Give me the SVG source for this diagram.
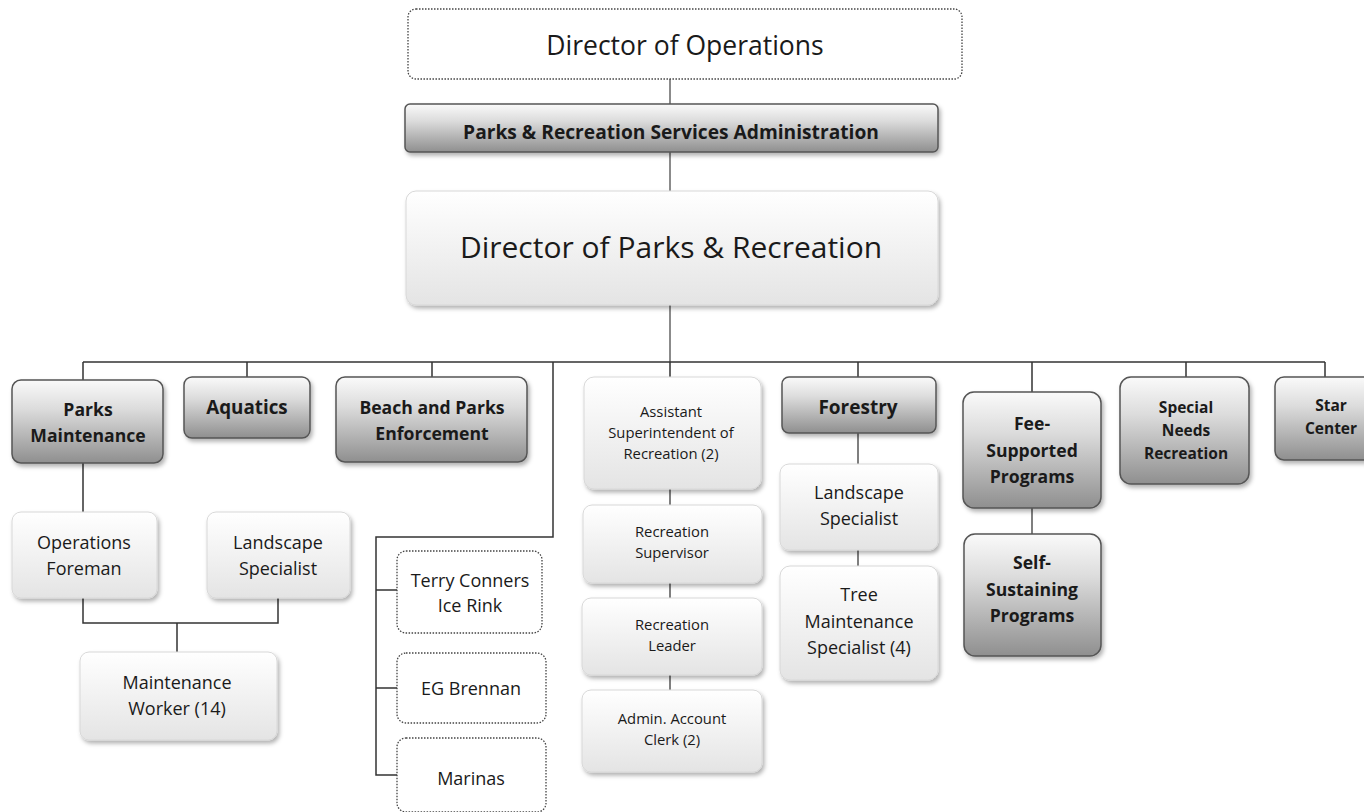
<svg xmlns="http://www.w3.org/2000/svg" width="1364" height="812" viewBox="0 0 1364 812">
<style>
text{font-family:"Open Sans",Lato,"Liberation Sans",sans-serif;fill:#1a1a1a;text-anchor:middle}
.b{font-weight:bold}
.dark{fill:url(#gd);stroke:#555;stroke-width:1.5;filter:url(#sh)}
.light{fill:url(#gl);stroke:#d8d8d8;stroke-width:1;filter:url(#sh)}
.dot{fill:#fff;stroke:#444;stroke-width:1.3;stroke-dasharray:1.5 1.5}
.c{fill:none;stroke:#333;stroke-width:1.5}
.r{font-size:18px}
.s{font-size:14.8px}
.m{font-size:17.6px}
</style>
<defs>
<linearGradient id="gd" x1="0" y1="0" x2="0" y2="1"><stop offset="0" stop-color="#fafafa"/><stop offset="0.35" stop-color="#dcdcdc"/><stop offset="1" stop-color="#8f8f8f"/></linearGradient>
<linearGradient id="gl" x1="0" y1="0" x2="0" y2="1"><stop offset="0" stop-color="#ffffff"/><stop offset="1" stop-color="#e4e4e4"/></linearGradient>
<filter id="sh" x="-10%" y="-10%" width="125%" height="130%"><feDropShadow dx="2" dy="3" stdDeviation="2" flood-color="#000" flood-opacity="0.3"/></filter>
</defs>
<rect width="1364" height="812" fill="#fff"/>
<g id="connectors">
<path class="c" style="stroke:#666" d="M670 79V104M670 152V191M670 305V362"/>
<path class="c" d="M83 362H1325M83 362V380M247 362V377M432 362V377M670 362V377M858 362V377M1032 362V392M1186 362V377M1325 362V377"/>
<path class="c" d="M553 362V537H376V775H397M376 590H397M376 688H397"/>
<path class="c" d="M83 463V512M83 598V623H278V598M177 623V652"/>
<path class="c" style="stroke:#555" d="M670 489V505M670 583V598M670 675V690M858 433V464M858 550V566M1032 508V534"/>
</g>
<g id="director-operations"><rect class="dot" x="408" y="9" width="554" height="70" rx="8"/><text x="685" y="55" font-size="26.5">Director of Operations</text></g>
<g id="prsa"><rect class="dark" x="405" y="104" width="533" height="48" rx="5"/><text class="b" x="671" y="139" font-size="19.2">Parks &amp; Recreation Services Administration</text></g>
<g id="director-parks"><rect class="light" x="406" y="191" width="532" height="114" rx="10"/><text x="671" y="258" font-size="30">Director of Parks &amp; Recreation</text></g>
<g id="parks-maintenance"><rect class="dark" x="12" y="380" width="151" height="83" rx="9"/><text class="b m"><tspan x="88" y="416">Parks</tspan><tspan x="88" y="442">Maintenance</tspan></text></g>
<g id="aquatics"><rect class="dark" x="184" y="377" width="126" height="61" rx="8"/><text class="b" x="247" y="414" font-size="18.8">Aquatics</text></g>
<g id="beach"><rect class="dark" x="336" y="377" width="191" height="85" rx="9"/><text class="b m"><tspan x="432" y="414">Beach and Parks</tspan><tspan x="432" y="440">Enforcement</tspan></text></g>
<g id="asst-super"><rect class="light" x="584" y="377" width="177" height="112" rx="10"/><text class="s"><tspan x="671" y="417">Assistant</tspan><tspan x="671" y="438">Superintendent of</tspan><tspan x="671" y="459">Recreation (2)</tspan></text></g>
<g id="forestry"><rect class="dark" x="782" y="377" width="154" height="56" rx="7"/><text class="b" x="858" y="414" font-size="19">Forestry</text></g>
<g id="fee-supported"><rect class="dark" x="963" y="392" width="138" height="116" rx="11"/><text class="b m"><tspan x="1032" y="430">Fee-</tspan><tspan x="1032" y="457">Supported</tspan><tspan x="1032" y="483">Programs</tspan></text></g>
<g id="special-needs"><rect class="dark" x="1120" y="377" width="129" height="107" rx="11"/><text class="b" font-size="15.5"><tspan x="1186" y="413">Special</tspan><tspan x="1186" y="436">Needs</tspan><tspan x="1186" y="459">Recreation</tspan></text></g>
<g id="star-center"><rect class="dark" x="1275" y="377" width="100" height="83" rx="9"/><text class="b" font-size="15.5"><tspan x="1331" y="411">Star</tspan><tspan x="1331" y="434">Center</tspan></text></g>
<g id="operations-foreman"><rect class="light" x="12" y="512" width="145" height="86" rx="9"/><text class="r"><tspan x="84" y="549">Operations</tspan><tspan x="84" y="575">Foreman</tspan></text></g>
<g id="landscape-pm"><rect class="light" x="207" y="512" width="143" height="86" rx="9"/><text class="r"><tspan x="278" y="549">Landscape</tspan><tspan x="278" y="575">Specialist</tspan></text></g>
<g id="maintenance-worker"><rect class="light" x="80" y="652" width="197" height="88" rx="9"/><text class="r"><tspan x="177" y="689">Maintenance</tspan><tspan x="177" y="715">Worker (14)</tspan></text></g>
<g id="terry"><rect class="dot" x="397" y="551" width="145" height="82" rx="9"/><text class="r"><tspan x="470" y="587">Terry Conners</tspan><tspan x="470" y="612">Ice Rink</tspan></text></g>
<g id="eg-brennan"><rect class="dot" x="397" y="653" width="149" height="70" rx="9"/><text class="r" x="471" y="695">EG Brennan</text></g>
<g id="marinas"><rect class="dot" x="397" y="738" width="149" height="74" rx="9"/><text class="r" x="471" y="785">Marinas</text></g>
<g id="rec-supervisor"><rect class="light" x="583" y="505" width="179" height="78" rx="9"/><text class="s"><tspan x="672" y="537">Recreation</tspan><tspan x="672" y="558">Supervisor</tspan></text></g>
<g id="rec-leader"><rect class="light" x="582" y="598" width="180" height="77" rx="9"/><text class="s"><tspan x="672" y="630">Recreation</tspan><tspan x="672" y="651">Leader</tspan></text></g>
<g id="admin-clerk"><rect class="light" x="582" y="690" width="180" height="82" rx="9"/><text class="s"><tspan x="672" y="724">Admin. Account</tspan><tspan x="672" y="745">Clerk (2)</tspan></text></g>
<g id="landscape-forestry"><rect class="light" x="780" y="464" width="158" height="86" rx="9"/><text class="r"><tspan x="859" y="499">Landscape</tspan><tspan x="859" y="525">Specialist</tspan></text></g>
<g id="tree-maintenance"><rect class="light" x="780" y="566" width="158" height="114" rx="10"/><text class="r"><tspan x="859" y="601">Tree</tspan><tspan x="859" y="628">Maintenance</tspan><tspan x="859" y="654">Specialist (4)</tspan></text></g>
<g id="self-sustaining"><rect class="dark" x="964" y="534" width="137" height="122" rx="11"/><text class="b m"><tspan x="1032" y="569">Self-</tspan><tspan x="1032" y="596">Sustaining</tspan><tspan x="1032" y="622">Programs</tspan></text></g>
</svg>
